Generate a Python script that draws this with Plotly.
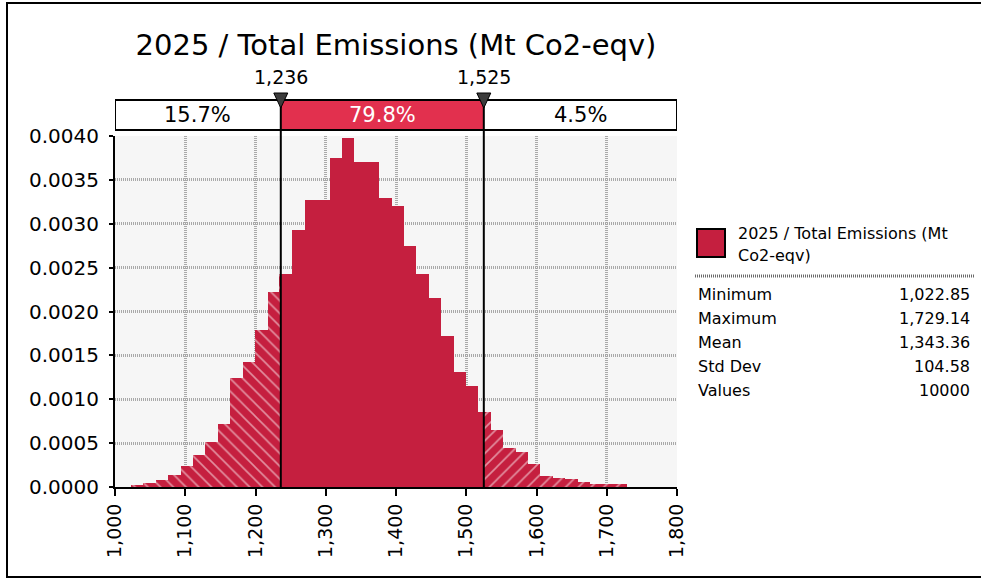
import plotly.graph_objects as go

# ---------------- data ----------------
title_text = "2025 / Total Emissions (Mt Co2-eqv)"
bin_min = 1022.85
bin_max = 1729.14
densities = [
    0.000026, 0.000050, 0.000076, 0.000140, 0.000236, 0.000370, 0.000510, 0.000715,
    0.001244, 0.001423, 0.001788, 0.002222, 0.002428, 0.002930, 0.003273, 0.003273,
    0.003752, 0.003980, 0.003707, 0.003707, 0.003296, 0.003204, 0.002748, 0.002428,
    0.002154, 0.001720, 0.001309, 0.001150, 0.000853, 0.000647, 0.000442, 0.000396,
    0.000259, 0.000122, 0.000100, 0.000095, 0.000054, 0.000030, 0.000030, 0.000030,
]
delimiters = [1236, 1525]
delimiter_labels = ["1,236", "1,525"]
region_pcts = ["15.7%", "79.8%", "4.5%"]
x_range = [1000, 1800]
x_ticks = [1000, 1100, 1200, 1300, 1400, 1500, 1600, 1700, 1800]
y_ticks = [0.0, 0.0005, 0.0010, 0.0015, 0.0020, 0.0025, 0.0030, 0.0035, 0.0040]
stat_names = ["Minimum", "Maximum", "Mean", "Std Dev", "Values"]
stat_values = ["1,022.85", "1,729.14", "1,343.36", "104.58", "10000"]
legend_lines = ["2025 / Total Emissions (Mt", "Co2-eqv)"]

# ---------------- layout geometry ----------------
W, H = 981, 579
ML, MR, MT, MB = 115, 304, 136, 92
PW, PH = W - ML - MR, H - MT - MB
FONT = "DejaVu Sans"
RED = "#C51F3F"
MIDRED = "#E2304E"


def px(xp):
    return (xp - ML) / PW


def py(yp):
    return (H - MB - yp) / PH


# ---------------- split bins into regions ----------------
n = len(densities)
w = (bin_max - bin_min) / n
seg = {0: ([], [], []), 1: ([], [], []), 2: ([], [], [])}
d1, d2 = delimiters
for i, d in enumerate(densities):
    lo, hi = bin_min + i * w, bin_min + (i + 1) * w
    cuts = [lo] + [c for c in delimiters if lo < c < hi] + [hi]
    for a, b in zip(cuts[:-1], cuts[1:]):
        mid = (a + b) / 2
        r = 0 if mid < d1 else (1 if mid < d2 else 2)
        seg[r][0].append(mid)
        seg[r][1].append(b - a)
        seg[r][2].append(d)

fig = go.Figure()
for r, shape in [(0, "\\"), (1, ""), (2, "/")]:
    xs, ws, ys = seg[r]
    marker = dict(color=RED, line=dict(width=0))
    if shape:
        marker["pattern"] = dict(shape=shape, fgcolor="white", bgcolor=RED,
                                 fillmode="overlay", size=9, solidity=0.18)
    fig.add_trace(go.Bar(x=xs, y=ys, width=ws, marker=marker, showlegend=False,
                         hoverinfo="skip"))

shapes = []
annotations = []

# outer frame
shapes.append(dict(type="rect", xref="paper", yref="paper", x0=px(7), x1=px(995),
                   y0=py(577), y1=py(3), line=dict(color="black", width=2),
                   fillcolor="rgba(0,0,0,0)", layer="below"))

# delimiter bar
bar_top, bar_bot = py(100), py(130)
shapes.append(dict(type="rect", xref="x", yref="paper", x0=d1, x1=d2, y0=bar_bot,
                   y1=bar_top, fillcolor=MIDRED, line=dict(width=0)))
shapes.append(dict(type="rect", xref="x", yref="paper", x0=x_range[0], x1=x_range[1],
                   y0=bar_bot, y1=bar_top, fillcolor="rgba(0,0,0,0)",
                   line=dict(color="black", width=2)))
for d in delimiters:
    shapes.append(dict(type="line", xref="x", yref="paper", x0=d, x1=d, y0=0,
                       y1=bar_top, line=dict(color="black", width=2)))
    # triangle marker on top of the delimiter line
    shapes.append(dict(type="path", xref="x", yref="paper", xsizemode="pixel",
                       ysizemode="pixel", xanchor=d, yanchor=bar_top,
                       path="M -7 7 L 7 7 L 0 -8 Z", fillcolor="#3c3c3c",
                       line=dict(color="black", width=1)))
bounds = [x_range[0]] + delimiters + [x_range[1]]
for k, t in enumerate(region_pcts):
    annotations.append(dict(x=(bounds[k] + bounds[k + 1]) / 2, xref="x",
                            y=(bar_top + bar_bot) / 2, yref="paper", text=t,
                            showarrow=False, xanchor="center", yanchor="middle",
                            font=dict(family=FONT, size=21,
                                      color="white" if k == 1 else "black")))
for d, lab in zip(delimiters, delimiter_labels):
    annotations.append(dict(x=d, xref="x", y=py(77), yref="paper", text=lab,
                            showarrow=False, xanchor="center", yanchor="middle",
                            font=dict(family=FONT, size=19, color="black")))

# legend swatch & text
shapes.append(dict(type="rect", xref="paper", yref="paper", x0=px(697), x1=px(725),
                   y0=py(257), y1=py(229), fillcolor=RED,
                   line=dict(color="black", width=2)))
for k, t in enumerate(legend_lines):
    annotations.append(dict(x=px(736), xref="paper", y=py(233 + 22 * k), yref="paper",
                            text=t, showarrow=False, xanchor="left", yanchor="middle",
                            font=dict(family=FONT, size=16, color="black")))
shapes.append(dict(type="line", xref="paper", yref="paper", x0=px(695), x1=px(975),
                   y0=py(276), y1=py(276),
                   line=dict(color="#6a6a6a", width=3, dash="1px,1px")))
for k, (nm, v) in enumerate(zip(stat_names, stat_values)):
    yy = py(294 + 24 * k)
    annotations.append(dict(x=px(696), xref="paper", y=yy, yref="paper", text=nm,
                            showarrow=False, xanchor="left", yanchor="middle",
                            font=dict(family=FONT, size=16, color="black")))
    annotations.append(dict(x=px(972), xref="paper", y=yy, yref="paper", text=v,
                            showarrow=False, xanchor="right", yanchor="middle",
                            font=dict(family=FONT, size=16, color="black")))

grid = dict(showgrid=True, gridcolor="#A9A9A9", griddash="1px,1px", gridwidth=3)
fig.update_layout(
    width=W, height=H,
    margin=dict(l=ML, r=MR, t=MT, b=MB),
    paper_bgcolor="white", plot_bgcolor="#F6F6F6",
    barmode="overlay", bargap=0,
    title=dict(text=title_text, x=0.5, xref="paper", y=1 - 45 / H, yref="container",
               xanchor="center", yanchor="middle",
               font=dict(family=FONT, size=29, color="black")),
    xaxis=dict(range=x_range, tickvals=x_ticks, tickformat=",", tickangle=-90,
               showline=True, linecolor="black", linewidth=2, ticks="outside",
               ticklen=7, tickwidth=2, tickcolor="black", zeroline=False,
               tickfont=dict(family=FONT, size=19, color="black"), **grid),
    yaxis=dict(range=[0, 0.004], tickvals=y_ticks, tickformat=".4f",
               showline=True, linecolor="black", linewidth=2, ticks="outside",
               ticklen=4, tickwidth=2, tickcolor="black", zeroline=False,
               ticklabelstandoff=6,
               tickfont=dict(family=FONT, size=20, color="black"), **grid),
    shapes=shapes, annotations=annotations,
)

fig.write_html("out.html", config={"displayModeBar": False},
               post_script="document.body.style.margin='0px';")
